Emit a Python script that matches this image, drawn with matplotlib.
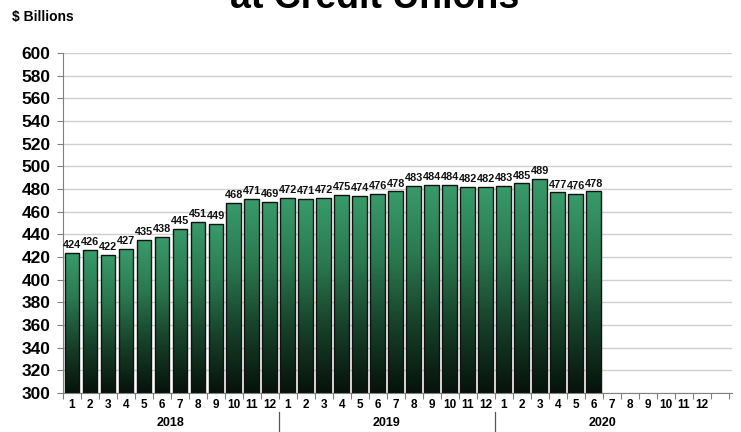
import numpy as np
import matplotlib
matplotlib.use("Agg")
import matplotlib.pyplot as plt
from matplotlib.colors import LinearSegmentedColormap
from matplotlib.patches import Rectangle

plt.rcParams['font.family'] = ['Liberation Sans', 'DejaVu Sans']

# monthly loan balances, $ billions
years = ['2018', '2019', '2020']
months = [str(m) for m in range(1, 13)]
loans_2018 = [424, 426, 422, 427, 435, 438, 445, 451, 449, 468, 471, 469]
loans_2019 = [472, 471, 472, 475, 474, 476, 478, 483, 484, 484, 482, 482]
loans_2020 = [483, 485, 489, 477, 476, 478]
values = loans_2018 + loans_2019 + loans_2020

ymin, ymax = 300, 600
n_slots = 36
bar_w = 0.82

fig = plt.figure(figsize=(7.41, 4.32), dpi=100)
ax = fig.add_axes([0.085, 0.0903, 0.903, 0.7867])

green = LinearSegmentedColormap.from_list('bar_green', ['#06120b', '#164029', '#2a7850', '#389b6a'])
grad = np.linspace(0, 1, 256).reshape(-1, 1)

for i, v in enumerate(values):
    x0 = i - bar_w / 2
    im = ax.imshow(grad, cmap=green, origin='lower', aspect='auto',
                   extent=(x0, x0 + bar_w, ymin, v), zorder=2)
    rect = Rectangle((x0, ymin), bar_w, v - ymin, fc='none', ec='#111111', lw=1.0, zorder=3)
    ax.add_patch(rect)
    im.set_clip_path(rect)
    ax.text(i, v + 2.5, str(v), ha='center', va='bottom', fontsize=7.8,
            fontweight='bold', color='#111111', zorder=4)

ax.set_xlim(-0.5, n_slots + 0.7)
ax.set_ylim(ymin, ymax)
ax.set_yticks(range(ymin, ymax + 1, 20))
ax.tick_params(axis='y', labelsize=12.5, length=4, color='#808080', pad=5)
for lbl in ax.get_yticklabels():
    lbl.set_fontweight('bold')
ax.yaxis.grid(True, color='#cfcfcf', lw=1.0, zorder=0)
ax.set_axisbelow(True)

# tick marks on slot boundaries, month labels drawn as text
ax.set_xticks(np.arange(-0.5, n_slots + 0.6, 1))
ax.set_xticklabels([])
ax.tick_params(axis='x', length=4, color='#808080')
for s in ['top', 'right']:
    ax.spines[s].set_visible(False)
for s in ['left', 'bottom']:
    ax.spines[s].set_color('#808080')

tr = ax.get_xaxis_transform()
for y_i, yr in enumerate(years):
    for m_i, m in enumerate(months):
        ax.text(y_i * 12 + m_i, -0.036, m, transform=tr, ha='center', va='center',
                fontsize=8.5, fontweight='bold', clip_on=False)
    ax.text(y_i * 12 + 5.5, -0.089, yr, transform=tr, ha='center', va='center',
            fontsize=9, fontweight='bold', clip_on=False)
for b in (11.5, 23.5):
    ax.plot([b, b], [-0.056, -0.12], transform=tr, color='#555555', lw=0.9, clip_on=False)

# second line of the title; the first line sits above the figure edge
fig.text(0.505, 0.981, 'at Credit Unions', ha='center', va='baseline',
         fontsize=27, fontweight='bold')
fig.text(0.016, 0.96, '$ Billions', ha='left', va='center', fontsize=10, fontweight='bold')

fig.savefig('out.png', dpi=100)
